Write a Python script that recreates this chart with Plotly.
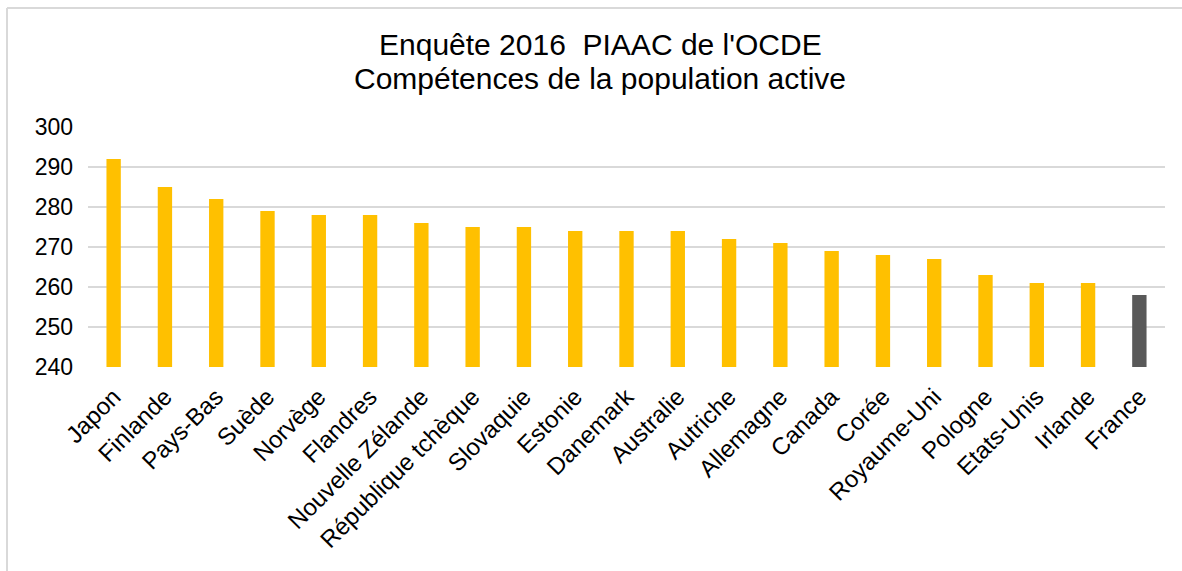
import plotly.graph_objects as go

countries = ["Japon", "Finlande", "Pays-Bas", "Suède", "Norvège", "Flandres", "Nouvelle Zélande",
             "République tchèque", "Slovaquie", "Estonie", "Danemark", "Australie", "Autriche",
             "Allemagne", "Canada", "Corée", "Royaume-Uni", "Pologne", "Etats-Unis", "Irlande", "France"]
scores = [292, 285, 282, 279, 278, 278, 276, 275, 275, 274, 274, 274, 272, 271, 269, 268, 267, 263, 261, 261, 258]
highlight = "France"
ytick_vals = [240, 250, 260, 270, 280, 290, 300]
title_lines = ["Enquête 2016  PIAAC de l'OCDE", "Compétences de la population active"]

colors = ["#595959" if c == highlight else "#FFC000" for c in countries]

W, H = 1182, 571
ml, mr, mt, mb = 88, W - 1165, 127, H - 367
pw, ph = W - ml - mr, H - mt - mb

fig = go.Figure(go.Bar(
    x=countries, y=[s - 240 for s in scores], base=240,
    marker=dict(color=colors, line=dict(width=0)),
    width=0.28,
))

def px_to_paper_x(px):
    return (px - ml) / pw

def px_to_paper_y(py):
    return 1 + (mt - py) / ph

fig.add_shape(type="line", xref="paper", yref="paper",
              x0=px_to_paper_x(7), x1=px_to_paper_x(7), y0=px_to_paper_y(8), y1=px_to_paper_y(571),
              line=dict(color="#D9D9D9", width=2))
fig.add_shape(type="line", xref="paper", yref="paper",
              x0=px_to_paper_x(7), x1=px_to_paper_x(1182), y0=px_to_paper_y(8), y1=px_to_paper_y(8),
              line=dict(color="#D9D9D9", width=2))

for line, cy in zip(title_lines, [45, 78]):
    fig.add_annotation(text=line, xref="paper", yref="paper",
                       x=px_to_paper_x(600), y=px_to_paper_y(cy),
                       xanchor="center", yanchor="middle", showarrow=False,
                       font=dict(size=30, color="#000000"))

fig.update_layout(
    width=W, height=H,
    margin=dict(l=ml, r=mr, t=mt, b=mb),
    paper_bgcolor="white", plot_bgcolor="white",
    font=dict(family="Liberation Sans, Arial, sans-serif", color="#000000"),
    showlegend=False,
    xaxis=dict(tickangle=-45, tickfont=dict(size=24, color="#000000"), showgrid=False,
               showline=False, ticks="", range=[-0.5, len(countries) - 0.5],
               ticklabelstandoff=10),
    yaxis=dict(range=[240, 300], tickvals=ytick_vals, tickfont=dict(size=23, color="#000000"),
               showgrid=True, gridcolor="#D9D9D9", gridwidth=1.5, zeroline=False,
               showline=False, ticks="", ticklabelstandoff=14),
)

fig.write_html("out.html")
